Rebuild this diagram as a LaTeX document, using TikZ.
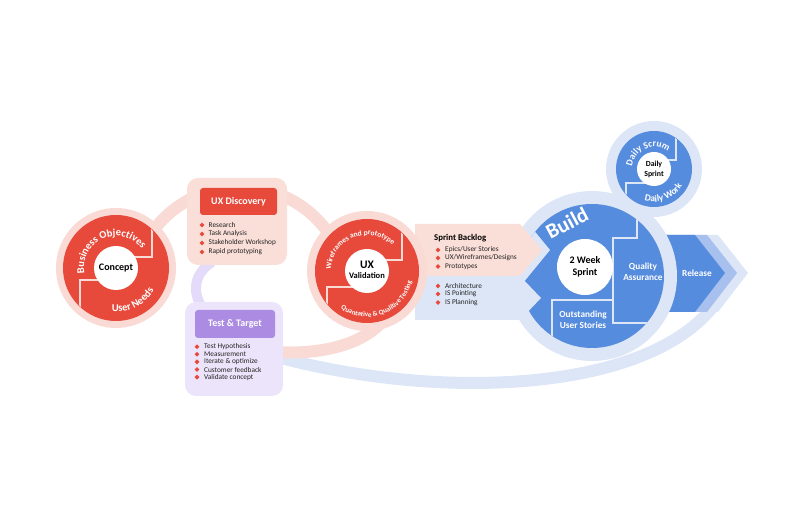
\documentclass[tikz,border=0pt]{standalone}
\usepackage{fontspec}
\setmainfont{Carlito}
\usetikzlibrary{decorations.text,shapes.geometric}
\definecolor{cred}{RGB}{231,73,59}
\definecolor{cpink}{RGB}{249,218,212}
\definecolor{cpinkbox}{RGB}{250,222,216}
\definecolor{cpurple}{RGB}{172,140,226}
\definecolor{clav}{RGB}{236,228,250}
\definecolor{clavband}{RGB}{228,218,249}
\definecolor{cblue}{RGB}{86,140,222}
\definecolor{cpale}{RGB}{221,230,247}
\definecolor{cmid}{RGB}{168,192,237}
\definecolor{ctext}{RGB}{35,35,35}
\begin{document}
\begin{tikzpicture}[x=1pt,y=1pt,
  disc/.style={circle,inner sep=0pt,draw=none},
  sep/.style={line width=1.6pt},
  bul/.style={diamond,fill=cred,inner sep=0pt,minimum size=5pt},
  itm/.style={anchor=west,inner sep=0pt,text=ctext,font=\fontsize{7.3}{8}\selectfont},
  hdr/.style={rounded corners=3pt,inner sep=0pt,text=white,font=\fontsize{10}{11}\selectfont\bfseries},
  panel/.style={rounded corners=11pt,inner sep=0pt},
  wlab/.style={text=white,align=center,inner sep=0pt,font=\fontsize{9.3}{10.5}\selectfont\bfseries},
  blab/.style={text=black,align=center,inner sep=0pt,font=\fontsize{10}{12}\selectfont\bfseries}]
\useasboundingbox (0,0) rectangle (800,530);
\coordinate (C1) at (116,262);
\coordinate (C2) at (367,259);
\coordinate (C3) at (592,254);
\coordinate (C4) at (654,361);
\coordinate (PC) at (240,235);
% connecting bands
\draw[line width=12pt,cpale] (270,175) .. controls (430,130) and (640,135) .. (712,222);
\draw[line width=12pt,cpink] ([shift={(150:108)}]PC) arc[start angle=150,end angle=30,radius=108];
\draw[line width=12pt,cpink] (385,212) .. controls (365,185) and (320,175) .. (275,178);
\draw[line width=10pt,clavband] (212,268) .. controls (192,255) and (192,235) .. (205,218);
% release chevrons
\fill[cpale] (660,295) -- (718,295) -- (748,257) -- (718,218) -- (660,218) -- cycle;
\fill[cmid] (660,295) -- (707,295) -- (737,257) -- (707,218) -- (660,218) -- cycle;
\fill[cblue] (660,295) -- (695,295) -- (725,257) -- (695,218) -- (660,218) -- cycle;
\node[wlab] (release) at (697,257) {Release};
% build and daily circles
\node[disc,fill=cpale,minimum size=170pt] (buildring) at (C3) {};
\node[disc,fill=cpale,minimum size=96pt] (dailyring) at (C4) {};
\node[disc,fill=cblue,minimum size=144pt] (build) at (C3) {};
\node[disc,fill=cblue,minimum size=76pt] (daily) at (C4) {};
\begin{scope}
\clip (C3) circle (72);
\fill[cpale] (500,313) -- (523,313) -- (550,280) -- (523,247) -- (500,247) -- cycle;
\draw[sep,cpale] (637,340) -- (637,292) -- (613,292) -- (613,207) -- (670,207);
\draw[sep,cpale] (552,170) -- (552,230) -- (613,230);
\end{scope}
% sprint backlog arrow
\fill[cpale] (415,254) -- (520,254) -- (541,232) -- (520,210) -- (415,210) -- cycle;
\fill[cpinkbox] (415,306) -- (520,306) -- (542,280) -- (520,254) -- (415,254) -- cycle;
\node[disc,fill=white,minimum size=56pt] (bwhite) at (585,263) {};
\node[blab] (sprint2) at (585,263) {2 Week\\Sprint};
\node[wlab] (qa) at (643,258) {Quality\\Assurance};
\node[wlab] (ous) at (583,210) {Outstanding\\User Stories};
\node[text=white,inner sep=0pt,rotate=28,font=\fontsize{21}{22}\selectfont\bfseries] (buildlab) at (567,307) {Build};
% daily
\begin{scope}
\clip (C4) circle (37.5);
\draw[sep,cpale] ([shift={(22,50)}]C4) -- ([shift={(22,9)}]C4) -- ([shift={(8,9)}]C4);
\draw[sep,cpale] ([shift={(-28,-50)}]C4) -- ([shift={(-28,-14)}]C4) -- ([shift={(-6,-14)}]C4);
\end{scope}
\node[disc,fill=white,minimum size=34pt] (dwhite) at (C4) {};
\node[text=black,align=center,inner sep=0pt,font=\fontsize{7.8}{10}\selectfont\bfseries] (dsprint) at (C4) {Daily\\Sprint};
\path[decorate,decoration={text along path,text align=center,text color=white,
  text={|\fontsize{9.5}{10}\selectfont\bfseries|Daily Scrum}}]
  ([shift={(202:22)}]C4) arc[start angle=202,end angle=22,radius=22];
\path[decorate,decoration={text along path,text align=center,text color=white,
  text={|\fontsize{9.5}{10}\selectfont\bfseries|Daily Work}}]
  ([shift={(-159:33)}]C4) arc[start angle=-159,end angle=21,radius=33];
% sprint backlog text
\node[anchor=west,inner sep=0pt,text=black,font=\fontsize{8.8}{10}\selectfont\bfseries] (sbl) at (434,292) {Sprint Backlog};
\foreach \t/\yy [count=\i] in {{Epics/User Stories}/280,{UX/Wireframes/Designs}/272,{Prototypes}/263.5,{Architecture}/244,{IS Pointing}/236,{IS Planning}/227.5}{
  \node[bul] (sb\i) at (438,\yy) {};
  \node[itm] (st\i) at (445,\yy) {\t};
}
% validation circle
\node[disc,fill=cpink,minimum size=120pt] (valring) at (C2) {};
\node[disc,fill=cred,minimum size=104pt] (valid) at (C2) {};
\begin{scope}
\clip (C2) circle (51.5);
\draw[sep,cpink] ([shift={(35,60)}]C2) -- ([shift={(35,11)}]C2) -- ([shift={(10,11)}]C2);
\draw[sep,cpink] ([shift={(-40,-60)}]C2) -- ([shift={(-40,-16)}]C2) -- ([shift={(-10,-16)}]C2);
\end{scope}
\node[disc,fill=white,minimum size=44pt] (vwhite) at (C2) {};
\node[text=black,inner sep=0pt,font=\fontsize{11.5}{12}\selectfont\bfseries] (ux) at ([yshift=6]C2) {UX};
\node[text=black,inner sep=0pt,font=\fontsize{8.5}{9}\selectfont\bfseries] (valtxt) at ([yshift=-5]C2) {Validation};
\path[decorate,decoration={text along path,text align=center,text color=white,
  text={|\fontsize{7.5}{8}\selectfont\bfseries|Wireframes and prototype}}]
  ([shift={(201.5:36)}]C2) arc[start angle=201.5,end angle=21.5,radius=36];
\path[decorate,decoration={text along path,text align=center,text color=white,
  text={|\fontsize{7}{8}\selectfont\bfseries|Quantative {\&} Qualitive Testing}}]
  ([shift={(-159:46)}]C2) arc[start angle=-159,end angle=21,radius=46];
% concept circle
\node[disc,fill=cpink,minimum size=120pt] (conring) at (C1) {};
\node[disc,fill=cred,minimum size=106pt] (concept) at (C1) {};
\begin{scope}
\clip (C1) circle (52.5);
\draw[sep,cpink] ([shift={(36,60)}]C1) -- ([shift={(36,11)}]C1) -- ([shift={(10,11)}]C1);
\draw[sep,cpink] ([shift={(-36,-60)}]C1) -- ([shift={(-36,-12)}]C1) -- ([shift={(-10,-12)}]C1);
\end{scope}
\node[disc,fill=white,minimum size=44pt] (cwhite) at (C1) {};
\node[blab] (contxt) at (C1) {Concept};
\path[decorate,decoration={text along path,text align=center,text color=white,
  text={|\fontsize{10.5}{11}\selectfont\bfseries|Business Objectives}}]
  ([shift={(203:32)}]C1) arc[start angle=203,end angle=23,radius=32];
\path[decorate,decoration={text along path,text align=center,text color=white,
  text={|\fontsize{10.5}{11}\selectfont\bfseries|User Needs}}]
  ([shift={(-153:44)}]C1) arc[start angle=-153,end angle=27,radius=44];
% UX discovery box
\node[panel,fill=cpinkbox,minimum width=100pt,minimum height=87pt] (discbox) at (237,308.5) {};
\node[hdr,fill=cred,minimum width=77pt,minimum height=27pt] (dischdr) at (238.5,328.5) {UX Discovery};
\foreach \t [count=\i] in {Research,Task Analysis,Stakeholder Workshop,Rapid prototyping}{
  \node[bul] (db\i) at (202,314-9*\i) {};
  \node[itm] (dt\i) at (208.5,314-9*\i) {\t};
}
% test and target box
\node[panel,fill=clav,minimum width=98pt,minimum height=94pt] (ttbox) at (234,181) {};
\node[hdr,fill=cpurple,minimum width=80pt,minimum height=28pt] (tthdr) at (235,206) {Test \& Target};
\foreach \t [count=\i] in {Test Hypothesis,Measurement,Iterate \& optimize,Customer feedback,Validate concept}{
  \node[bul] (tb\i) at (197,190.9-7.6*\i) {};
  \node[itm] (tt\i) at (204,190.9-7.6*\i) {\t};
}
\end{tikzpicture}
\end{document}
